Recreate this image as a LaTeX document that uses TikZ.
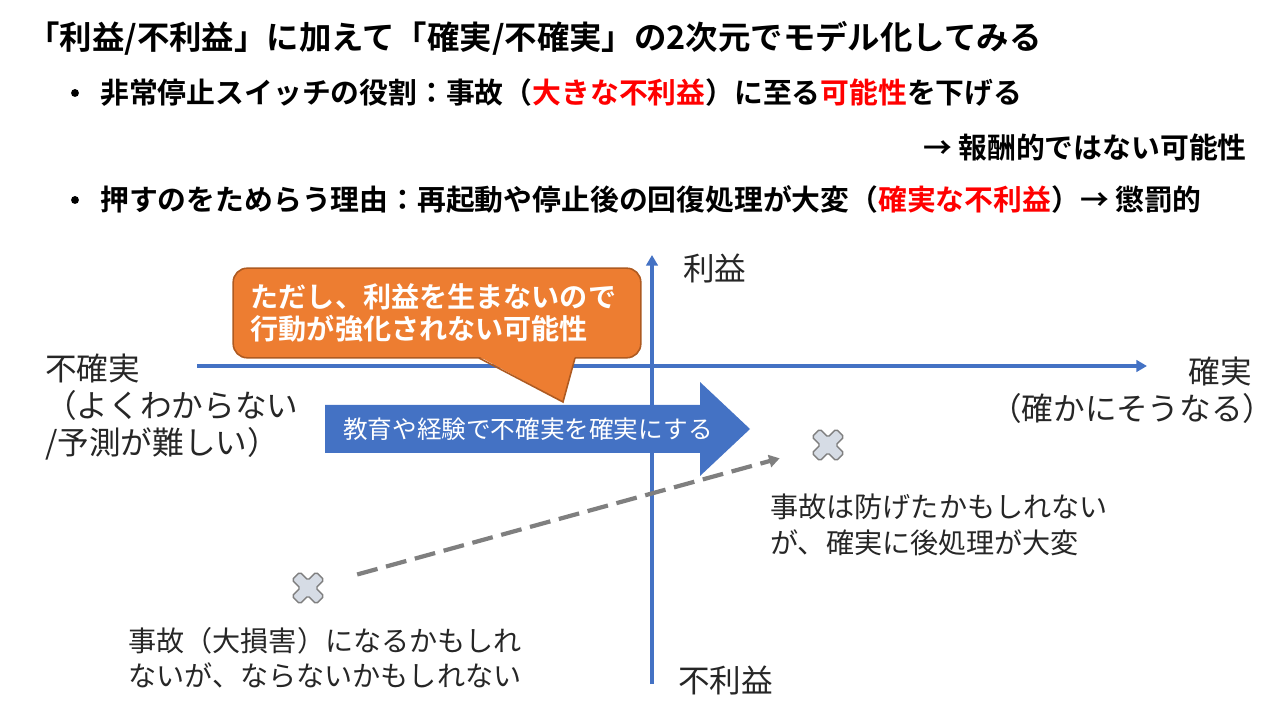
\documentclass[tikz,border=0pt]{standalone}
\usepackage{fontspec}
\setmainfont{Noto Sans CJK JP}[BoldFont={Noto Sans CJK JP Bold}]
\usepackage{xcolor}
\usepackage{tikz}
\usetikzlibrary{arrows.meta, positioning}

\definecolor{axisblue}{HTML}{4472C4}
\definecolor{calloutorange}{HTML}{ED7D31}
\definecolor{calloutedge}{HTML}{AE5A21}
\definecolor{hlred}{HTML}{FF0000}
\definecolor{inkgray}{HTML}{262626}
\definecolor{dashgray}{HTML}{7F7F7F}
\definecolor{crossfill}{HTML}{D6DCE5}
\definecolor{crossedge}{HTML}{7F7F7F}

\tikzset{
  pics/xmark/.style={code={
    \draw[draw=crossedge, fill=crossfill, line width=0.8pt, rounded corners=1pt, rotate=45]
      (-5.5,-17) -- (5.5,-17) -- (5.5,-5.5) -- (17,-5.5) -- (17,5.5) -- (5.5,5.5) -- (5.5,17) -- (-5.5,17)
      -- (-5.5,5.5) -- (-17,5.5) -- (-17,-5.5) -- (-5.5,-5.5) -- cycle;
  }}
}

\begin{document}
\begin{tikzpicture}[x=0.02cm, y=-0.02cm,
  every node/.style={inner sep=0pt, text=inkgray},
  titletext/.style={font=\bfseries\fontsize{18.45}{21}\selectfont, text=black},
  bullettext/.style={font=\bfseries\fontsize{16.4}{19}\selectfont, text=black},
  bulletdot/.style={circle, fill=black, minimum size=4.5pt},
  axislabel/.style={font=\fontsize{18}{21}\selectfont, align=left},
  notetext/.style={font=\fontsize{16}{20.2}\selectfont, align=left},
  axisline/.style={draw=axisblue, line width=1.9pt, -{Triangle[length=6pt, width=6.5pt]}},
  callbox/.style={fill=calloutorange, draw=calloutedge, line width=0.9pt, rounded corners=8pt,
    text=white, font=\bfseries\fontsize{16}{18.2}\selectfont, align=left,
    text width=212pt, inner xsep=10pt, minimum height=51pt},
  guessline/.style={draw=dashgray, line width=2.4pt, dash pattern=on 12pt off 5pt,
    -{Triangle[length=6pt, width=7pt]}, shorten <=19.5pt, shorten >=19pt}
]
\useasboundingbox (0,0) rectangle (1278,712);

% heading and bullets
\node[titletext, anchor=west] (title) at (27,38) {「利益/不利益」に加えて「確実/不確実」の2次元でモデル化してみる};
\node[bulletdot] (dot1) at (75,93) {};
\node[bullettext, anchor=west] (role) at (100,93) {非常停止スイッチの役割：事故（\textcolor{hlred}{大きな不利益}）に至る\textcolor{hlred}{可能性}を下げる};
\node[bullettext, anchor=east] (reward) at (1247,148) {→ 報酬的ではない可能性};
\node[bulletdot] (dot2) at (75,200) {};
\node[bullettext, anchor=west] (reason) at (100,200) {押すのをためらう理由：再起動や停止後の回復処理が大変（\textcolor{hlred}{確実な不利益}）→ 懲罰的};

% axes
\coordinate (xstart) at (197,366);
\coordinate (xend) at (1147,366);
\coordinate (ystart) at (652,684);
\coordinate (yend) at (652,255);
\draw[axisline] (xstart) -- (xend);
\draw[axisline] (ystart) -- (yend);

\node[axislabel, anchor=west] (rieki) at (683,268) {利益};
\node[axislabel, anchor=west] (furieki) at (678,680) {不利益};
\node[axislabel, anchor=east] (kakujitsu) at (1252,372) {確実};
\node[axislabel, anchor=west] (kakujitsunote) at (990,408) {（確かにそうなる）};
\node[axislabel, anchor=west] (fukakujitsu) at (45,407) {不確実\\（よくわからない\\/予測が難しい）};

% education arrow
\fill[axisblue] (325,405) -- (700,405) -- (700,382) -- (750,429) -- (700,476) -- (700,453) -- (325,453) -- cycle;
\node[text=white, font=\fontsize{14}{16}\selectfont] (learn) at (528,429) {教育や経験で不確実を確実にする};

% callout
\node[callbox] (notice) at (437,313) {ただし、利益を生まないので\\行動が強化されない可能性};
\fill[calloutorange] (479,356.5) -- (563,402) -- (575,356.5) -- cycle;
\draw[calloutedge, line width=0.9pt, line join=miter] (479,358) -- (563,402) -- (575,358);

% accidents
\node[minimum size=18pt] (bigloss) at (308,588) {};
\node[minimum size=18pt] (sureloss) at (828,445) {};
\draw[guessline] (bigloss) -- (sureloss);
\pic at (bigloss) {xmark};
\pic at (sureloss) {xmark};

\node[notetext, anchor=west] (safenote) at (770,525) {事故は防げたかもしれない\\が、確実に後処理が大変};
\node[notetext, anchor=west] (risknote) at (128,658) {事故（大損害）になるかもしれ\\ないが、ならないかもしれない};
\end{tikzpicture}
\end{document}
